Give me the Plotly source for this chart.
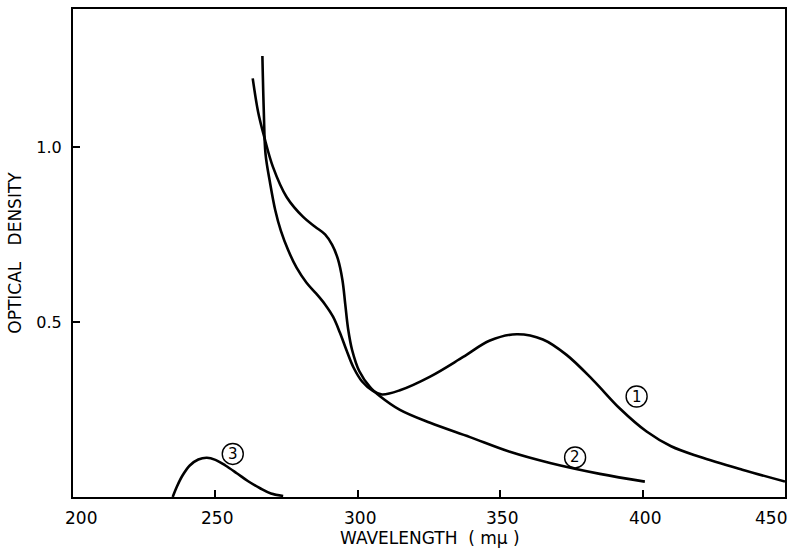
import plotly.graph_objects as go

# Curve 1 (peak near 355 mμ, ends at 450)
c1_x = [266.5, 267.0, 267.6, 269.2, 271.0, 273.0, 275.5, 278.5, 282.0, 285.5, 288.5, 291.3,
        293.7, 296.0, 298.5, 301.5, 305.3, 308.5, 314.8, 325.4, 337.0, 346.4, 355.8, 365.0,
        373.3, 382.6, 392.1, 401.4, 410.0, 420.0, 435.0, 450.0]
c1_y = [1.26, 1.10, 0.98, 0.897, 0.82, 0.76, 0.706, 0.655, 0.612, 0.58, 0.55, 0.515,
        0.47, 0.42, 0.37, 0.33, 0.303, 0.293, 0.305, 0.344, 0.40, 0.447, 0.465, 0.45,
        0.406, 0.334, 0.252, 0.187, 0.145, 0.115, 0.078, 0.044]

# Curve 2 (shoulder near 288 mμ, ends at 400)
c2_x = [263.1, 265.0, 267.1, 270.2, 275.0, 280.8, 285.0, 288.5, 291.0, 293.0, 294.6, 295.6,
        296.6, 298.0, 300.5, 304.3, 307.8, 314.8, 325.4, 339.4, 353.4, 367.5, 385.0, 400.8]
c2_y = [1.196, 1.10, 1.03, 0.943, 0.857, 0.80, 0.772, 0.75, 0.72, 0.68, 0.62, 0.55,
        0.48, 0.42, 0.36, 0.314, 0.288, 0.249, 0.212, 0.171, 0.129, 0.097, 0.066, 0.044]

# Curve 3 (small band near 247 mμ)
c3_x = [235.0, 236.5, 238.5, 241.0, 244.0, 247.0, 250.0, 253.5, 257.5, 261.5, 265.7, 269.5, 273.8]
c3_y = [0.0, 0.03, 0.062, 0.09, 0.107, 0.112, 0.106, 0.09, 0.068, 0.045, 0.025, 0.01, 0.003]

# Curve labels
lab_text = ["1", "2", "3"]
lab_x = [397.9, 376.3, 256.1]
lab_y = [0.287, 0.113, 0.123]

x_ticks = [200, 250, 300, 350, 400, 450]
x_ticklabels = ["200", "250", "300", "350", "400", "450"]
y_ticks = [0.5, 1.0]
y_ticklabels = ["0.5", "1.0"]
x_title = "WAVELENGTH  ( mμ )"
y_title = "OPTICAL   DENSITY"

FONT = "DejaVu Sans"

fig = go.Figure()
for xs, ys in [(c1_x, c1_y), (c2_x, c2_y), (c3_x, c3_y)]:
    fig.add_trace(go.Scatter(x=xs, y=ys, mode="lines",
                             line=dict(color="black", width=2.6, shape="spline", smoothing=1.0),
                             showlegend=False, hoverinfo="skip"))

for t, lx, ly in zip(lab_text, lab_x, lab_y):
    fig.add_shape(type="circle", xref="x", yref="y", xsizemode="pixel", ysizemode="pixel",
                  xanchor=lx, yanchor=ly, x0=-10.5, x1=10.5, y0=-10.5, y1=10.5,
                  line=dict(color="black", width=1.4))
    fig.add_annotation(x=lx, y=ly, text=t, showarrow=False,
                       font=dict(family=FONT, size=15, color="black"))

# x tick labels as annotations so end labels can be nudged inward like the original
edge_shift = {0: 8, len(x_ticks) - 1: -14}
for i, (tv, tt) in enumerate(zip(x_ticks, x_ticklabels)):
    fig.add_annotation(x=tv, y=0, xref="x", yref="y", text=tt, showarrow=False,
                       yanchor="top", yshift=-9, xshift=edge_shift.get(i, 2),
                       font=dict(family=FONT, size=17, color="black"))

# x axis title
fig.add_annotation(x=0.5, y=0, xref="paper", yref="paper", text=x_title, showarrow=False,
                   yanchor="middle", yshift=-41, xshift=1,
                   font=dict(family=FONT, size=17, color="black"))

fig.update_layout(
    width=802, height=548,
    margin=dict(l=73, r=17, t=9, b=51),
    paper_bgcolor="white", plot_bgcolor="white",
    font=dict(family=FONT, color="black"),
)
fig.update_xaxes(range=[200, 450], tickvals=x_ticks, showticklabels=False, ticks="inside",
                 ticklen=7, tickwidth=1.6, tickcolor="black", showline=True, linecolor="black",
                 linewidth=2, mirror=True, showgrid=False, zeroline=False, automargin=False)
fig.update_yaxes(range=[0, 1.394], tickvals=y_ticks, ticktext=y_ticklabels, ticks="inside",
                 ticklen=7, tickwidth=1.6, tickcolor="black", showline=True, linecolor="black",
                 linewidth=2, mirror=True, showgrid=False, zeroline=False, automargin=False,
                 tickfont=dict(size=16, family=FONT), ticklabelstandoff=6,
                 title=dict(text=y_title, font=dict(size=17, family=FONT), standoff=10))

fig.write_html("out.html")
